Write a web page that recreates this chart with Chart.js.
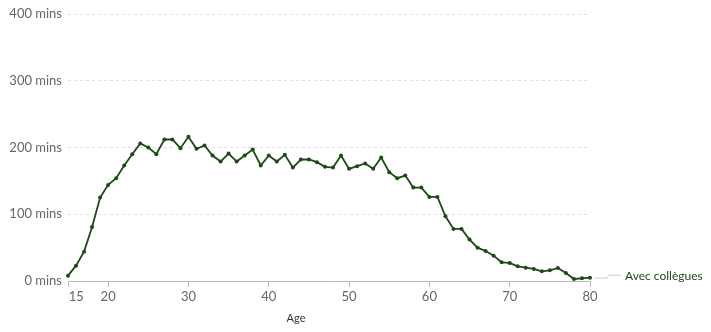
<!DOCTYPE html>
<html>
<head>
<meta charset="utf-8">
<script src="https://cdn.jsdelivr.net/npm/chart.js@4/dist/chart.umd.min.js"></script>
<style>
  html, body { margin: 0; padding: 0; background: #fff; }
  #wrap { width: 711px; height: 332px; position: relative; }
</style>
</head>
<body>
<div id="wrap"><canvas id="chart"></canvas></div>
<script>
const ages = [15,16,17,18,19,20,21,22,23,24,25,26,27,28,29,30,31,32,33,34,35,36,37,38,39,40,
  41,42,43,44,45,46,47,48,49,50,51,52,53,54,55,56,57,58,59,60,61,62,63,64,65,66,67,68,69,70,
  71,72,73,74,75,76,77,78,79,80];
const minutes = [8,23,44,81,125,144,154,173,190,206,200,190,212,212,199,216,198,203,188,179,
  191,179,188,197,173,188,179,189,170,182,182,178,171,170,188,168,172,176,168,185,
  163,154,158,140,140,126,126,97,78,78,62,50,45,38,28,27,22,20,18,14.5,16,19.5,12,3,4,5];
const xTicks = [15,20,30,40,50,60,70,80];
const yTicks = [0,100,200,300,400];
const seriesName = "Avec collègues";
const axisTitle = "Age";

const green = "#1d4a17";
const gray = "#666666";

// label at the end of the line + axis title
const extras = {
  id: "extras",
  afterDatasetsDraw(chart) {
    const ctx = chart.ctx;
    const x = chart.scales.x, y = chart.scales.y;
    const last = ages.length - 1;
    const px = x.getPixelForValue(ages[last]);
    const py = y.getPixelForValue(minutes[last]);
    ctx.save();
    ctx.strokeStyle = "#cccccc";
    ctx.lineWidth = 1;
    ctx.beginPath();
    ctx.moveTo(px + 4, py + 0.5);
    ctx.lineTo(px + 17, py + 0.5);
    ctx.lineTo(px + 19, py - 2.5);
    ctx.lineTo(px + 31, py - 2.5);
    ctx.stroke();
    ctx.fillStyle = green;
    ctx.font = "12px Lato";
    ctx.textBaseline = "middle";
    ctx.fillText(seriesName, px + 35, py - 2);
    ctx.fillStyle = "#333333";
    ctx.font = "11px Lato";
    ctx.textAlign = "center";
    ctx.fillText(axisTitle, 296, 318);
    ctx.restore();
  }
};

new Chart(document.getElementById("chart"), {
  type: "line",
  data: {
    datasets: [{
      label: seriesName,
      data: ages.map((a, i) => ({ x: a, y: minutes[i] })),
      borderColor: green,
      backgroundColor: green,
      borderWidth: 1.8,
      pointRadius: 2,
      pointBorderWidth: 0,
      pointHoverRadius: 2,
      tension: 0,
      clip: false
    }]
  },
  options: {
    responsive: true,
    maintainAspectRatio: false,
    animation: false,
    layout: { padding: { top: 14, right: 121, bottom: 0, left: 0 } },
    plugins: { legend: { display: false }, tooltip: { enabled: false } },
    scales: {
      x: {
        type: "linear",
        min: 15,
        max: 80,
        afterBuildTicks: (scale) => { scale.ticks = xTicks.map(v => ({ value: v })); },
        afterFit: (scale) => { scale.height = 51; },
        grid: { drawOnChartArea: false, drawTicks: true, tickLength: 6, color: "#bbbbbb" },
        border: { display: true, color: "#bbbbbb" },
        ticks: {
          color: gray,
          font: { family: "Lato", size: 13 },
          padding: 2,
          maxRotation: 0,
          autoSkip: false,
          callback: (v) => v === 15 ? "     " + v : String(v)
        }
      },
      y: {
        min: 0,
        max: 400,
        afterBuildTicks: (scale) => { scale.ticks = yTicks.map(v => ({ value: v })); },
        afterFit: (scale) => { scale.width = 68; },
        grid: { color: "#e0e0e0", drawTicks: false },
        border: { display: false, dash: [3, 3] },
        ticks: {
          color: gray,
          font: { family: "Lato", size: 13 },
          padding: 6,
          callback: (v) => v + " mins"
        }
      }
    }
  },
  plugins: [extras]
});
</script>
</body>
</html>
